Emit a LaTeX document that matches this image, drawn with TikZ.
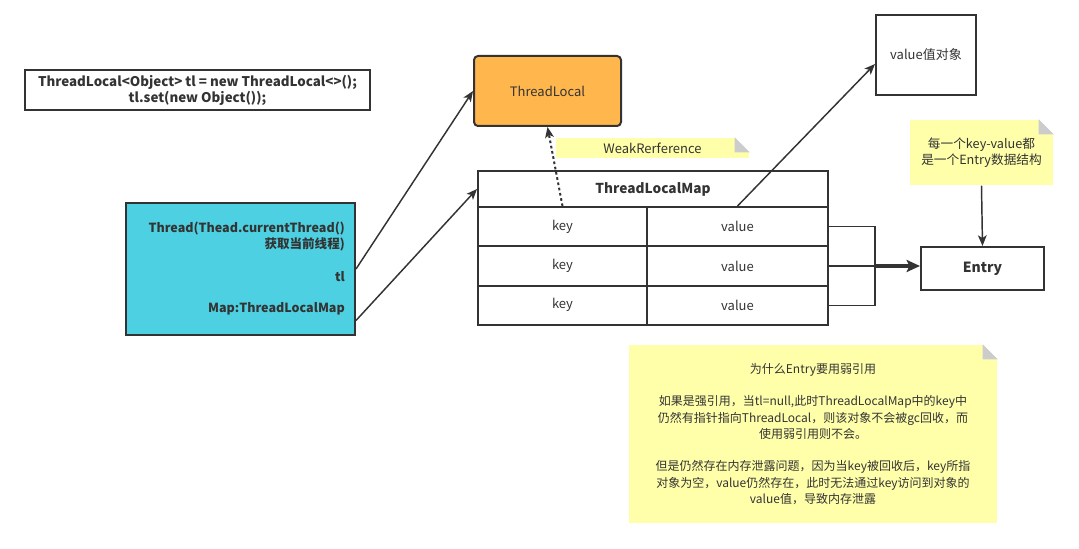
\documentclass[tikz,border=0pt]{standalone}
\usepackage{fontspec}
\setmainfont{Noto Sans CJK SC}
\usetikzlibrary{arrows.meta}
\definecolor{linegray}{HTML}{333333}
\definecolor{threadcyan}{HTML}{4DD0E1}
\definecolor{localorange}{HTML}{FFB74D}
\definecolor{notefill}{HTML}{FFFFAA}
\definecolor{foldgray}{HTML}{CCCCCC}
\newdimen\pxu \pxu=0.75pt
\newcommand{\foldcorner}[1]{%
  \fill[white] (#1.north east) -- ++(-15,0) -- ++(15,15) -- cycle;
  \fill[foldgray] (#1.north east) ++(-15,0) -- ++(0,15) -- ++(15,0) -- cycle;}

\begin{document}
\begin{tikzpicture}[x=0.75pt, y=-0.75pt, color=linegray, line width=1.1pt,
    every node/.style={font=\fontsize{9.75}{12}\selectfont, text=linegray},
    box/.style={draw, line width=1.5pt, inner sep=0pt, align=center},
    boldtxt/.style={font=\fontsize{9.4}{12}\selectfont\bfseries},
    note/.style={fill=notefill, inner sep=0pt, align=center},
    arr/.style={-{Stealth[length=8pt, width=6.5pt, inset=2pt]}}]
    \useasboundingbox (0,0) rectangle (1079,549);

    % Code
    \node[box, font=\fontsize{10}{12}\selectfont\bfseries, minimum width=345\pxu, minimum height=40\pxu] (code) at (197.5,90)
        {ThreadLocal<Object> tl = new ThreadLocal<>();\\tl.set(new Object());};

    % Thread
    \node[box, fill=threadcyan, minimum width=229\pxu, minimum height=132\pxu] (thread) at (240.5,269) {};
    \node[boldtxt, anchor=east, align=right] (curthread) at (350,237) {Thread(Thead.currentThread()\\获取当前线程)};
    \node[boldtxt, anchor=east] (tl) at (350,277) {tl};
    \node[boldtxt, anchor=east] (mapf) at (350,309) {Map:ThreadLocalMap};

    % ThreadLocal
    \node[box, fill=localorange, rounded corners=3pt, minimum width=147\pxu, minimum height=70\pxu] (tlocal) at (547.5,91) {ThreadLocal};

    % WeakReference note
    \node[note, minimum width=193\pxu, minimum height=20\pxu] (weak) at (652.5,148) {WeakRerference};
    \foldcorner{weak}

    % ThreadLocalMap table
    \node[box, font=\fontsize{10.25}{12}\selectfont\bfseries, minimum width=350\pxu, minimum height=36\pxu] (hdr) at (653,189) {ThreadLocalMap};
    \foreach \r/\yc in {1/226.7, 2/266, 3/305.3} {
        \node[box, minimum width=169\pxu, minimum height=39.3\pxu] (key\r) at (562.5,\yc) {key};
        \node[box, minimum width=181\pxu, minimum height=39.3\pxu] (val\r) at (737.5,\yc) {value};
    }

    % value object
    \node[box, minimum width=100\pxu, minimum height=80\pxu] (valobj) at (926,55) {value值对象};

    % Entry
    \node[box, font=\fontsize{10.5}{12}\selectfont\bfseries, minimum width=123\pxu, minimum height=43\pxu] (entry) at (982.5,268.5) {Entry};

    % Entry note
    \node[note, font=\fontsize{9.5}{11.5}\selectfont, minimum width=143\pxu, minimum height=65\pxu] (entrynote) at (981.5,152.5)
        {每一个key-value都\\是一个Entry数据结构};
    \foldcorner{entrynote}

    % Why note
    \node[note, minimum width=368\pxu, minimum height=178\pxu, font=\fontsize{9}{12.2}\selectfont] (whynote) at (813,434)
        {为什么Entry要用弱引用\\[12.2pt]
         如果是强引用，当tl=null,此时ThreadLocalMap中的key中\\
         仍然有指针指向ThreadLocal，则该对象不会被gc回收，而\\
         使用弱引用则不会。\\[12.2pt]
         但是仍然存在内存泄露问题，因为当key被回收后，key所指\\
         对象为空，value仍然存在，此时无法通过key访问到对象的\\
         value值，导致内存泄露};
    \foldcorner{whynote}

    % Connectors
    \draw[arr] (thread.east) -- (tlocal.west);
    \draw[arr] (thread.east |- mapf.south) -- (hdr.west);
    \draw[arr, line width=1.5pt, dash pattern=on 2pt off 2pt] (key1.north) -- (tlocal.south);
    \draw[arr] (val1.north) -- (valobj.190);
    \draw[arr] (entrynote.south) -- (entry.north);

    % Bracket to Entry
    \coordinate (bus) at (875,266);
    \draw (val1.east) -| (bus) |- (val3.east);
    \draw (val2.east) -- (bus);
    \draw[line width=3pt, -{Stealth[length=10pt, width=9pt, inset=2pt]}] (bus) -- (entry.west |- bus);
\end{tikzpicture}
\end{document}
